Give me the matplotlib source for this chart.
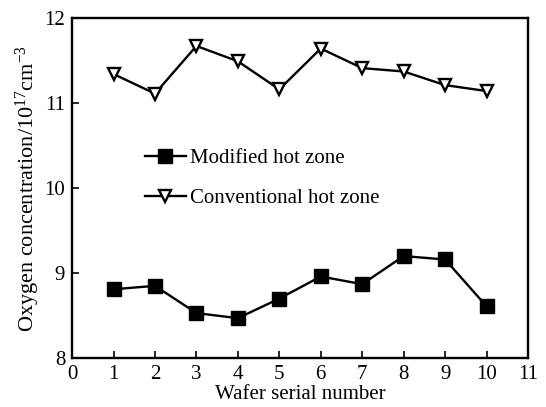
import matplotlib
matplotlib.use("Agg")
import matplotlib.pyplot as plt

wafer = [1, 2, 3, 4, 5, 6, 7, 8, 9, 10]
modified = [8.81, 8.85, 8.53, 8.47, 8.70, 8.96, 8.87, 9.20, 9.16, 8.61]
conventional = [11.34, 11.11, 11.67, 11.49, 11.16, 11.64, 11.41, 11.37, 11.21, 11.14]
xticks = list(range(0, 12))
yticks = [8, 9, 10, 11, 12]

plt.rcParams['font.family'] = ['Liberation Serif', 'DejaVu Serif']
plt.rcParams['mathtext.fontset'] = 'custom'
plt.rcParams['mathtext.rm'] = 'Liberation Serif'

fig = plt.figure(figsize=(5.46, 4.07), dpi=100)
ax = fig.add_axes([0.132, 0.120, 0.835, 0.836])

ax.plot(wafer, modified, color='black', lw=1.7, marker='s', ms=9.5,
        mfc='black', mec='black', label='Modified hot zone')
ax.plot(wafer, conventional, color='black', lw=1.7, marker='v', ms=9,
        mfc='white', mec='black', mew=1.7, label='Conventional hot zone')

ax.set_xlim(0, 11)
ax.set_ylim(8, 12)
ax.set_xticks(xticks)
ax.set_yticks(yticks)
ax.tick_params(direction='in', length=5, width=1.2, labelsize=15)
ax.tick_params(axis='x', pad=5)
ax.tick_params(axis='y', pad=5)
for s in ax.spines.values():
    s.set_linewidth(1.7)

ax.set_xlabel('Wafer serial number', fontsize=15, labelpad=1)
ax.set_ylabel(r'Oxygen concentration/10$\mathregular{^{17}}$cm$\mathregular{^{-3}}$',
              fontsize=16, labelpad=2)

ax.legend(loc='upper left', bbox_to_anchor=(0.118, 0.672), frameon=False,
          fontsize=15, handlelength=2.0, handletextpad=0.2, labelspacing=1.0)

fig.savefig('out.png', dpi=100)
